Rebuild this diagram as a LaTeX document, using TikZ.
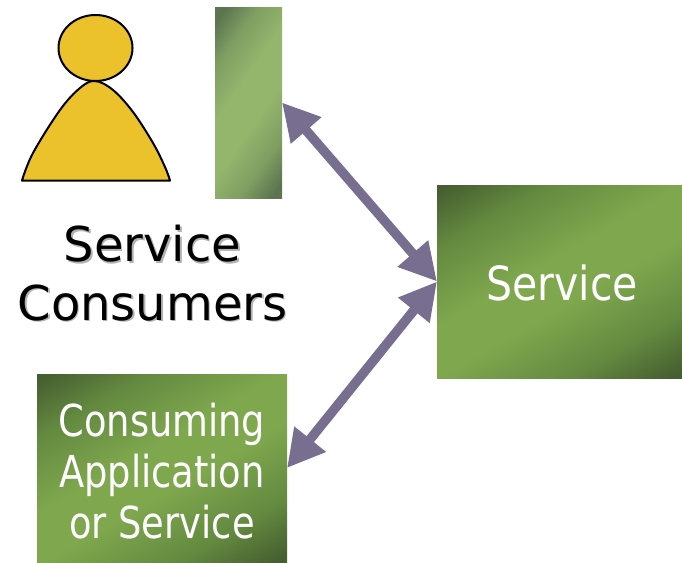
\documentclass[tikz,border=0pt]{standalone}
\usepackage{fontspec}
\setmainfont{DejaVu Sans}
\newfontfamily\boxfont[FakeStretch=0.97]{DejaVu Sans Condensed}
\newfontfamily\appfont[FakeStretch=0.93]{DejaVu Sans Condensed}
\usetikzlibrary{arrows.meta,shadings,shapes.geometric}
\definecolor{gdark}{HTML}{465F30}
\definecolor{gmid}{HTML}{648A40}
\definecolor{glight}{HTML}{7FA84E}
\definecolor{bdark}{HTML}{5C7550}
\definecolor{bmid}{HTML}{7F9E62}
\definecolor{blight}{HTML}{93B56C}
\definecolor{arrowc}{HTML}{786E90}
\definecolor{persony}{HTML}{ECC22C}
\pgfdeclarehorizontalshading{gband}{100bp}{color(0bp)=(gdark);color(17bp)=(gdark);color(29bp)=(gmid);color(45bp)=(glight);color(55bp)=(glight);color(71bp)=(gmid);color(83bp)=(gdark);color(100bp)=(gdark)}
\pgfdeclarehorizontalshading{bband}{100bp}{color(0bp)=(bdark);color(19bp)=(bdark);color(30bp)=(bmid);color(43bp)=(blight);color(57bp)=(blight);color(70bp)=(bmid);color(81bp)=(bdark);color(100bp)=(bdark)}
\tikzset{
  gbox/.style={draw=none,shading=gband,shading angle=-60,minimum width=#1,inner sep=0pt,outer sep=0pt,text=white,align=center},
  barbox/.style={shading=bband,shading angle=-35,minimum width=67pt,minimum height=191pt,inner sep=0pt,outer sep=0pt},
  persona/.style={draw=black,line width=2pt,fill=persony,line join=round},
  dblarrow/.style={draw=arrowc,line width=9.5pt,{Triangle[length=37pt,width=38pt,fill=arrowc]}-{Triangle[length=37pt,width=38pt,fill=arrowc]}},
  lbl/.style={align=center,font=\fontsize{48}{58.5}\selectfont,inner sep=0pt},
}
\begin{document}
\begin{tikzpicture}[x=1pt,y=-1pt]
\useasboundingbox (0,0) rectangle (682,562);
\path[persona] plot[smooth,tension=0.6] coordinates {(22,180.5) (33,153) (60,110) (80,88) (95,81) (113,90) (133,112) (153,143) (165,167) (170,180.5)} -- cycle;
\node[persona,shape=ellipse,minimum width=74pt,minimum height=66pt,inner sep=0pt] (head) at (95.5,48) {};
\node[barbox] (bar) at (248.5,102.5) {};
\node[gbox=245pt,minimum height=193pt,font=\boxfont\fontsize{47}{52}\selectfont] (service) at (559.5,281.5) {\hspace{5pt}\rule{0pt}{39pt}Service};
\node[gbox=250pt,minimum height=188pt,font=\appfont\fontsize{44}{51}\selectfont] (app) at (162,468) {\rule{0pt}{40pt}Consuming\\Application\\or Service};
\node[lbl,text=black!30] (shadow) at (154,274.5) {Service\\Consumers};
\node[lbl] (consumers) at (152.5,273) {Service\\Consumers};
\draw[dblarrow] (bar.east) -- (service.west);
\draw[dblarrow] (app.east) -- (service.west);
\end{tikzpicture}
\end{document}
